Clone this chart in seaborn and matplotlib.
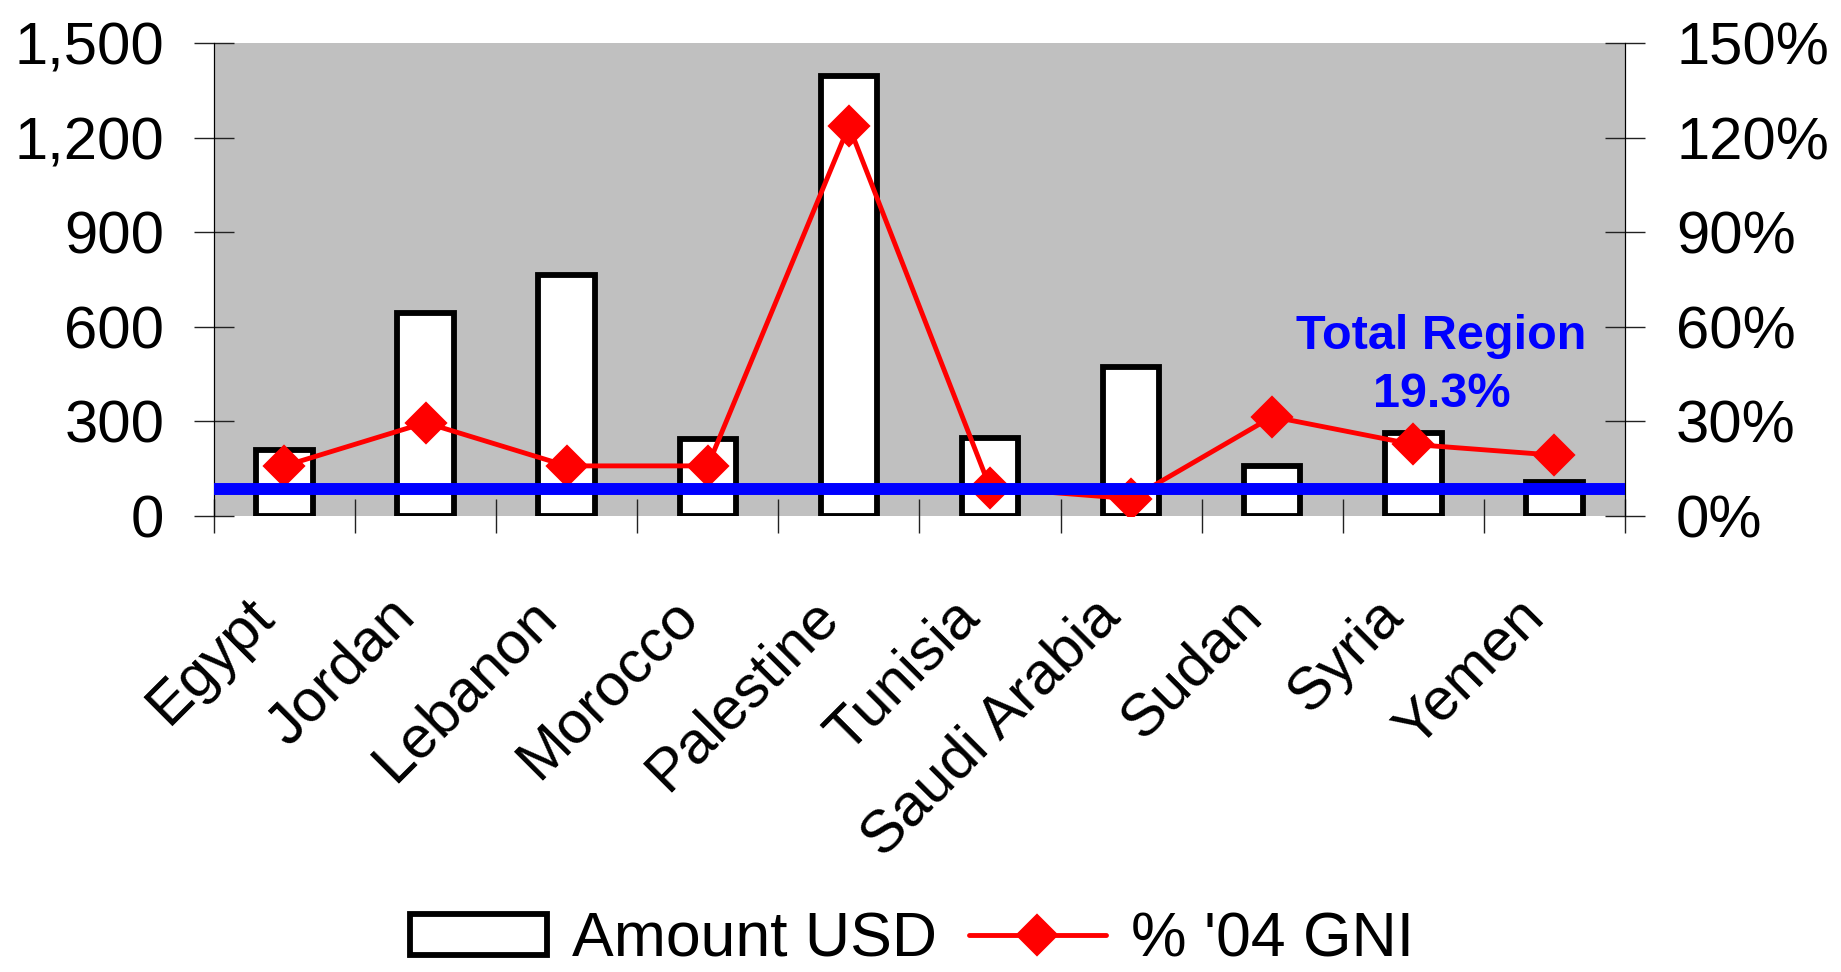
import numpy as np
import pandas as pd
import matplotlib
matplotlib.use('Agg')
import matplotlib.pyplot as plt
from matplotlib.ticker import FixedLocator, FuncFormatter, MultipleLocator
import seaborn as sns

countries = ['Egypt', 'Jordan', 'Lebanon', 'Morocco', 'Palestine', 'Tunisia',
             'Saudi Arabia', 'Sudan', 'Syria', 'Yemen']
amount_usd = [210, 645, 765, 245, 1395, 246, 473, 158, 262, 109]
gni_pct = [15.9, 29.6, 15.9, 15.9, 123.7, 9.0, 5.5, 31.5, 22.7, 19.3]
region_line_pct = 8.6
region_label = ['Total Region', '19.3%']
legend_labels = ['Amount USD', "% '04 GNI"]

sns.set_theme(style='white')
plt.rcParams['font.family'] = ['Liberation Sans', 'DejaVu Sans']
plt.rcParams['font.size'] = 43
plt.rcParams['text.color'] = 'black'
plt.rcParams['xtick.labelcolor'] = 'black'
plt.rcParams['ytick.labelcolor'] = 'black'

df = pd.DataFrame({'country': countries, 'amount': amount_usd, 'pct': gni_pct})

fig, ax = plt.subplots(figsize=(18.41, 9.72), dpi=100)
fig.subplots_adjust(left=0.1162, right=0.8827, top=0.9558, bottom=0.4691)
ax.set_facecolor('#C0C0C0')

sns.barplot(data=df, x='country', y='amount', ax=ax, color='white', saturation=1,
            edgecolor='black', linewidth=4.2, width=0.4)
ax.set_xlim(-0.5, len(countries) - 0.5)
ax.set_ylim(0, 1500)
ax.yaxis.set_major_locator(MultipleLocator(300))
ax.yaxis.set_major_formatter(FuncFormatter(lambda v, p: f'{v:,.0f}'))
ax.set_xlabel('')
ax.set_ylabel('')

ax2 = ax.twinx()
sns.pointplot(data=df, x='country', y='pct', ax=ax2, color='red', markers='D',
              markersize=19, linewidth=3.5, errorbar=None)
ax2.axhline(region_line_pct, color='blue', linewidth=8.6, zorder=5)
ax2.set_ylim(0, 150)
ax2.set_xlim(-0.5, len(countries) - 0.5)
ax2.yaxis.set_major_locator(MultipleLocator(30))
ax2.yaxis.set_major_formatter(FuncFormatter(lambda v, p: f'{v:.0f}%'))
ax2.set_xlabel('')
ax2.set_ylabel('')

ax2.text(0.870, 0.353, region_label[0], transform=ax2.transAxes, ha='center',
         va='baseline', color='blue', fontsize=35, fontweight='bold', zorder=6)
ax2.text(0.870, 0.2304, region_label[1], transform=ax2.transAxes, ha='center',
         va='baseline', color='blue', fontsize=35, fontweight='bold', zorder=6)

for a in (ax, ax2):
    a.spines['top'].set_visible(False)
    a.spines['bottom'].set_visible(False)
    a.spines['left'].set_color('black')
    a.spines['right'].set_color('black')
    a.spines['left'].set_linewidth(0.8)
    a.spines['right'].set_linewidth(0.8)
    a.grid(False)

ax.tick_params(axis='y', direction='inout', length=29.5, width=1.0, color='#222222',
               pad=21, labelsize=43, labelcolor='black', left=True)
ax2.tick_params(axis='y', direction='inout', length=29.5, width=1.0, color='#222222',
                pad=22, labelsize=43, labelcolor='black', right=True)

ax.xaxis.set_minor_locator(FixedLocator(np.arange(-0.5, len(countries), 1.0)))
ax.tick_params(axis='x', which='minor', direction='inout', length=24.5, width=1.0,
               color='#222222', bottom=True)
ax.tick_params(axis='x', which='major', length=0, pad=52, labelsize=43,
               labelcolor='black')
ax.set_xticks(range(len(countries)))
ax.set_xticklabels(countries, rotation=45, ha='right', va='top')
ax2.tick_params(axis='x', which='both', bottom=False, labelbottom=False)

bar_handle = ax.patches[0]
line_handle = ax2.lines[0]
fig.legend([bar_handle, line_handle], legend_labels, loc='center',
           bbox_to_anchor=(912 / 1841, 1 - 940 / 972), ncol=2, frameon=False,
           fontsize=45, handlelength=2.2, handleheight=0.65, handletextpad=0.4,
           columnspacing=0.5, borderpad=0.1, borderaxespad=0.1)

fig.savefig('out.png', dpi=100)
